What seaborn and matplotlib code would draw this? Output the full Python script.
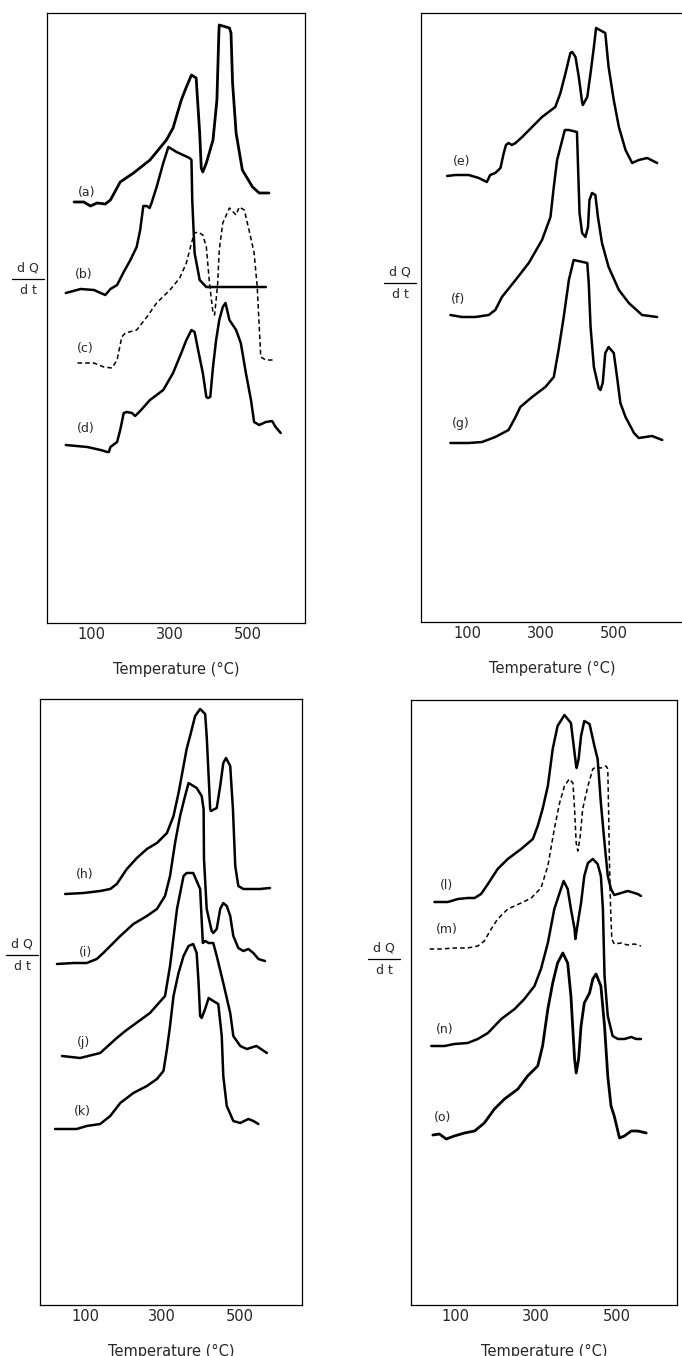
import matplotlib
matplotlib.use('Agg')
import matplotlib.pyplot as plt
import seaborn as sns
from matplotlib.lines import Line2D

# ---- panel 1: curves (a)-(d), temperature in degC, dQ/dt in arbitrary units ----
a_T = [56, 81, 98, 115, 136, 149, 174, 208, 250, 292, 309, 330, 343, 356, 368, 377, 381,
       385, 394, 411, 421, 426, 427, 453, 457, 461, 470, 486, 512, 529, 554]
a_Q = [421, 421, 417, 420, 419, 423, 441, 450, 463, 483, 495, 523, 536, 548, 545, 490, 455,
       451, 460, 483, 523, 590, 598, 595, 590, 540, 490, 453, 436, 430, 430]

b_T = [35, 73, 107, 124, 136, 149, 166, 183, 200, 216, 225, 233, 242, 249, 254, 267, 284,
       297, 318, 351, 356, 358, 364, 377, 394, 427, 546]
b_Q = [330, 334, 333, 330, 328, 334, 338, 351, 363, 376, 393, 417, 417, 415, 420, 436, 460,
       476, 471, 465, 463, 423, 370, 343, 336, 336, 336]

c_T = [65, 107, 132, 153, 166, 178, 187, 216, 242, 267, 301, 326, 343, 356, 364, 373, 385,
       394, 402, 411, 415, 419, 423, 427, 436, 453, 470, 478, 491, 503, 516, 524, 533, 546, 571]
c_Q = [260, 260, 256, 255, 263, 286, 290, 293, 306, 320, 333, 345, 360, 380, 390, 391, 388,
       376, 340, 310, 308, 323, 340, 373, 400, 415, 408, 416, 413, 393, 370, 336, 266, 263, 263]

d_T = [35, 90, 124, 141, 145, 149, 166, 174, 183, 191, 204, 212, 225, 250, 284, 309, 330,
       343, 356, 364, 373, 385, 394, 398, 404, 411, 419, 427, 436, 443, 453, 470, 482, 495,
       508, 516, 529, 546, 562, 571, 584]
d_Q = [178, 176, 173, 171, 171, 176, 181, 193, 210, 211, 210, 207, 212, 223, 233, 250, 270,
       283, 293, 291, 273, 250, 226, 225, 226, 256, 283, 303, 316, 320, 303, 293, 280, 250,
       223, 201, 198, 201, 202, 196, 190]

# ---- panel 2: curves (e)-(g) ----
e_T = [46, 68, 105, 132, 154, 163, 177, 191, 200, 206, 213, 222, 232, 250, 277, 304, 322,
       340, 354, 368, 381, 386, 395, 404, 413, 415, 427, 436, 445, 451, 476, 485, 499, 513,
       531, 549, 567, 590, 617]
e_Q = [446, 447, 447, 444, 440, 447, 449, 454, 469, 477, 479, 477, 479, 485, 495, 505, 510,
       515, 529, 549, 569, 570, 565, 545, 520, 517, 525, 549, 575, 594, 589, 555, 522, 495,
       472, 459, 462, 464, 459]

f_T = [55, 86, 123, 159, 177, 195, 232, 268, 304, 327, 336, 345, 359, 366, 377, 399, 402,
       406, 413, 422, 429, 433, 440, 449, 456, 467, 485, 513, 540, 576, 617]
f_Q = [307, 305, 305, 307, 312, 325, 342, 359, 382, 405, 435, 462, 482, 492, 492, 490, 455,
       409, 389, 385, 395, 422, 429, 427, 405, 379, 355, 332, 319, 307, 305]

g_T = [55, 105, 141, 177, 213, 232, 245, 277, 313, 336, 349, 363, 377, 390, 427, 431, 436,
       445, 458, 463, 469, 476, 485, 499, 508, 517, 531, 554, 567, 585, 603, 631]
g_Q = [179, 179, 180, 185, 192, 205, 215, 225, 235, 245, 272, 305, 342, 362, 359, 339, 295,
       255, 234, 232, 239, 269, 275, 269, 245, 219, 205, 189, 184, 185, 186, 182]

# ---- panel 3: curves (h)-(k) ----
h_T = [48, 96, 139, 165, 182, 208, 234, 260, 286, 312, 329, 342, 355, 363, 372, 385, 398,
       411, 415, 420, 424, 426, 441, 450, 458, 465, 476, 483, 489, 497, 510, 553, 579]
h_Q = [411, 412, 414, 416, 421, 436, 447, 456, 462, 472, 489, 512, 539, 556, 569, 589, 596,
       591, 569, 529, 496, 494, 497, 519, 542, 547, 539, 496, 439, 419, 416, 416, 417]

i_T = [27, 70, 104, 130, 147, 173, 191, 225, 260, 286, 307, 320, 333, 346, 359, 368, 389,
       402, 407, 408, 415, 428, 432, 441, 450, 458, 467, 476, 484, 497, 510, 523, 536, 549, 566]
i_Q = [341, 342, 342, 346, 352, 362, 369, 381, 389, 396, 409, 429, 462, 489, 509, 522, 517,
       509, 496, 446, 396, 374, 372, 376, 396, 402, 399, 389, 369, 357, 354, 356, 352, 346, 344]

j_T = [40, 87, 139, 182, 204, 268, 307, 320, 338, 355, 363, 380, 398, 405, 411, 420, 432,
       441, 458, 476, 484, 502, 519, 544, 571]
j_Q = [249, 247, 252, 267, 274, 292, 309, 339, 396, 429, 432, 432, 416, 362, 364, 362, 362,
       349, 322, 292, 269, 259, 256, 259, 252]

k_T = [22, 78, 104, 139, 165, 191, 225, 260, 286, 303, 312, 320, 329, 342, 355, 368, 380,
       389, 394, 398, 402, 411, 420, 432, 445, 454, 458, 467, 484, 502, 523, 536, 549]
k_Q = [176, 176, 179, 181, 189, 202, 212, 219, 226, 234, 256, 279, 309, 332, 349, 359, 361,
       352, 322, 289, 287, 296, 307, 304, 301, 269, 229, 199, 184, 182, 186, 184, 181]

# ---- panel 4: curves (l)-(o) ----
l_T = [49, 82, 107, 131, 148, 164, 181, 205, 230, 263, 292, 304, 316, 329, 341, 353, 370,
       386, 395, 399, 400, 405, 411, 419, 432, 444, 452, 460, 469, 477, 485, 493, 510, 526,
       535, 551, 559]
l_Q = [403, 403, 406, 407, 407, 411, 421, 436, 446, 456, 466, 479, 496, 519, 556, 579, 590,
       582, 552, 539, 537, 546, 569, 584, 581, 559, 546, 502, 462, 429, 416, 410, 412, 414,
       413, 411, 409]

m_T = [37, 65, 98, 131, 156, 172, 189, 205, 230, 263, 288, 312, 329, 345, 358, 370, 382,
       391, 395, 399, 403, 409, 415, 428, 440, 448, 460, 473, 477, 479, 481, 484, 487, 493,
       510, 526, 543, 559]
m_Q = [356, 356, 357, 357, 359, 364, 376, 386, 396, 402, 407, 417, 439, 476, 502, 519, 526,
       522, 496, 462, 454, 469, 496, 519, 536, 538, 537, 539, 536, 496, 446, 396, 366, 361,
       362, 360, 361, 359]

n_T = [41, 74, 98, 131, 156, 181, 214, 247, 271, 296, 312, 329, 345, 358, 368, 378, 386,
       395, 397, 403, 411, 419, 428, 440, 452, 460, 465, 469, 477, 489, 502, 518, 535, 547, 559]
n_Q = [259, 259, 261, 262, 266, 272, 286, 296, 306, 319, 336, 362, 396, 412, 424, 416, 396,
       376, 366, 382, 402, 429, 442, 446, 441, 429, 396, 329, 289, 269, 266, 266, 268, 266, 266]

o_T = [45, 61, 78, 98, 123, 148, 172, 197, 222, 255, 279, 304, 316, 329, 341, 353, 366,
       378, 386, 395, 399, 405, 411, 419, 432, 440, 448, 460, 469, 477, 485, 493, 506, 518,
       535, 551, 572]
o_Q = [170, 171, 166, 169, 172, 174, 182, 196, 206, 216, 229, 239, 259, 296, 322, 342, 352,
       342, 309, 246, 232, 246, 279, 302, 312, 326, 331, 319, 279, 229, 199, 189, 167, 169,
       174, 174, 172]

# curve labels: (text, T, dQ)
labels_1 = [('(a)', 88, 424), ('(b)', 80, 342), ('(c)', 85, 268), ('(d)', 85, 188)]
labels_2 = [('(e)', 86, 454), ('(f)', 76, 316), ('(g)', 82, 192)]
labels_3 = [('(h)', 100, 424), ('(i)', 100, 346), ('(j)', 96, 256), ('(k)', 94, 187)]
labels_4 = [('(l)', 78, 413), ('(m)', 80, 369), ('(n)', 74, 269), ('(o)', 70, 181)]

major_ticks = [100, 300, 500]
minor_ticks = [200, 400, 600]

sns.set_style('white')
plt.rcParams['font.family'] = ['DejaVu Sans']

fig = plt.figure(figsize=(6.82, 13.56), dpi=100)

W, H = 682.0, 1356.0


def make_ax(x0, x1, y0, y1):
    return fig.add_axes([x0 / W, 1 - y1 / H, (x1 - x0) / W, (y1 - y0) / H])


def draw(ax, T, Q, lw=1.8, ls='-'):
    sns.lineplot(x=T, y=Q, ax=ax, color='black', lw=lw, linestyle=ls,
                 sort=False, estimator=None)


def style_axis(ax, xlim, ylim, labels):
    ax.set_xlim(*xlim)
    ax.set_ylim(*ylim)
    ax.set_xticks(major_ticks)
    ax.set_xticks(minor_ticks, minor=True)
    ax.set_xticklabels([str(t) for t in major_ticks])
    ax.set_yticks([])
    ax.tick_params(axis='x', which='both', direction='in', length=3, width=0.9,
                   color='black', pad=3, labelsize=10.5)
    for s in ax.spines.values():
        s.set_visible(True)
        s.set_color('black')
        s.set_linewidth(0.9)
    ax.set_xlabel('Temperature (°C)', fontsize=10.5, labelpad=14)
    ax.set_ylabel('')
    for txt, t, q in labels:
        ax.text(t, q, txt, fontsize=9, ha='center', va='bottom')


def dqdt(xc, yc, half=16):
    fig.text(xc / W, 1 - (yc - 10) / H, 'd Q', fontsize=9, ha='center', va='center')
    fig.text(xc / W, 1 - (yc + 12) / H, 'd t', fontsize=9, ha='center', va='center')
    fig.add_artist(Line2D([(xc - half) / W, (xc + half) / W],
                          [1 - (yc + 1) / H, 1 - (yc + 1) / H], color='black', lw=0.9))


# panel 1
ax1 = make_ax(47, 305, 13, 623)
draw(ax1, a_T, a_Q, lw=2.0)
draw(ax1, b_T, b_Q)
draw(ax1, c_T, c_Q, lw=1.1, ls=(0, (3, 2)))
draw(ax1, d_T, d_Q)
style_axis(ax1, (-13, 646), (0, 610), labels_1)
dqdt(28, 278)

# panel 2 (right edge runs off the page)
ax2 = make_ax(421, 684, 13, 622)
draw(ax2, e_T, e_Q)
draw(ax2, f_T, f_Q)
draw(ax2, g_T, g_Q)
style_axis(ax2, (-25, 690), (0, 609), labels_2)
dqdt(400, 282)

# panel 3
ax3 = make_ax(40, 302, 699, 1305)
draw(ax3, h_T, h_Q)
draw(ax3, i_T, i_Q)
draw(ax3, j_T, j_Q)
draw(ax3, k_T, k_Q)
style_axis(ax3, (-17, 662), (0, 606), labels_3)
dqdt(22, 954)

# panel 4
ax4 = make_ax(411, 677, 700, 1305)
draw(ax4, l_T, l_Q)
draw(ax4, m_T, m_Q, lw=1.1, ls=(0, (3, 2)))
draw(ax4, n_T, n_Q)
draw(ax4, o_T, o_Q, lw=2.0)
style_axis(ax4, (-9, 648), (0, 605), labels_4)
dqdt(384, 958)

fig.savefig('out.png', dpi=100, facecolor='white')
